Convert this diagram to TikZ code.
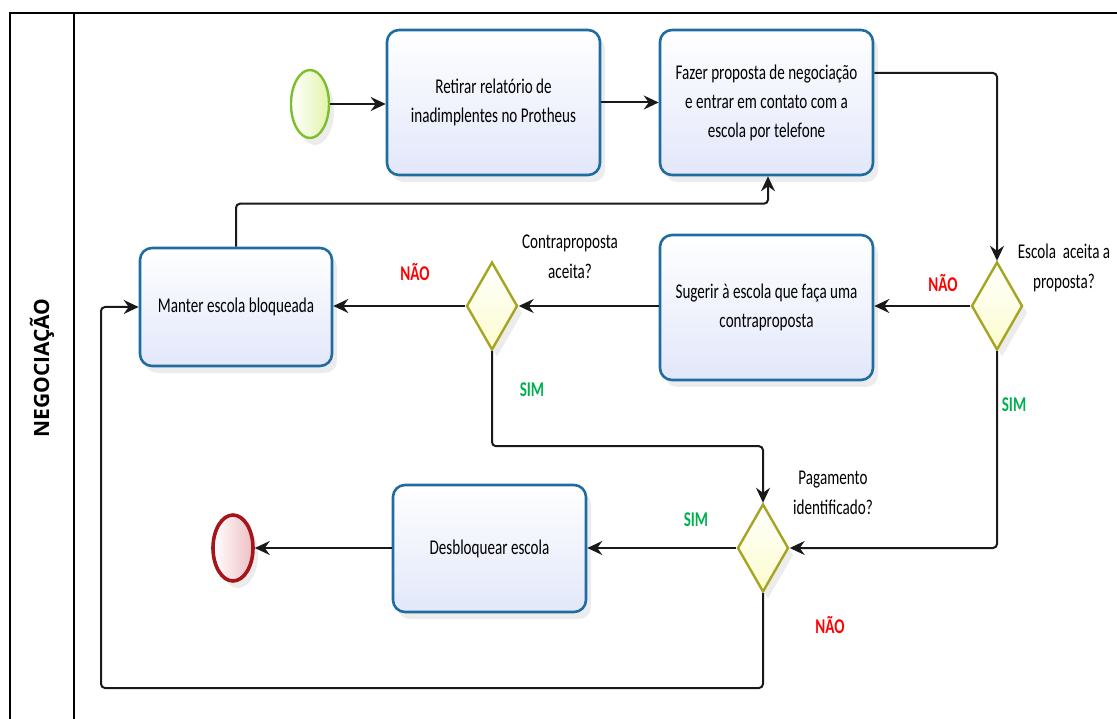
\documentclass[tikz,border=0pt]{standalone}
\usepackage{fontspec}
\setmainfont{Carlito}[FakeStretch=0.72]
\newfontfamily\lanefont{Open Sans}
\usepackage{tikz}
\usetikzlibrary{positioning,shapes.geometric,arrows.meta,shadows}

\definecolor{taskblue}{RGB}{30,108,160}
\definecolor{taskfill}{RGB}{226,231,250}
\definecolor{gateline}{RGB}{165,165,35}
\definecolor{gatefill}{RGB}{252,252,205}
\definecolor{startline}{RGB}{125,190,45}
\definecolor{startfill}{RGB}{226,244,170}
\definecolor{endline}{RGB}{165,22,28}
\definecolor{endfill}{RGB}{238,190,196}
\definecolor{noRed}{RGB}{255,0,0}
\definecolor{simGreen}{RGB}{0,176,80}

\begin{document}
\begin{tikzpicture}[
  x=1pt, y=-1pt,
  task/.style={rectangle, draw=taskblue, line width=2.6pt, rounded corners=12pt,
    top color=white, bottom color=taskfill, align=center,
    minimum width=213pt, minimum height=145pt, inner sep=4pt,
    font=\fontsize{21}{29}\selectfont,
    drop shadow={shadow xshift=5pt, shadow yshift=-7pt, opacity=0.15}},
  gate/.style={diamond, draw=gateline, line width=2.4pt,
    top color=white, bottom color=gatefill,
    minimum width=51pt, minimum height=88pt, inner sep=0pt,
    drop shadow={shadow xshift=5pt, shadow yshift=-7pt, opacity=0.15}},
  flow/.style={-{Stealth[length=15pt, width=14pt, inset=5pt]},
    line width=2pt, draw=black!90},
  ask/.style={align=center, font=\fontsize{21}{30}\selectfont},
  nao/.style={text=noRed, font=\fontsize{21}{24}\selectfont\bfseries},
  sim/.style={text=simGreen, font=\fontsize{21}{24}\selectfont\bfseries}
]
\useasboundingbox (0,0) rectangle (1117,719);

% ── Lane ──
\draw[line width=1.5pt] (10,719) -- (10,13) -- (1117,13);
\draw[line width=1.5pt] (74,13) -- (74,719);
\node[rotate=90, font=\lanefont\fontsize{21}{24}\selectfont\bfseries] (lane) at (42,368) {NEGOCIAÇÃO};

% ── Nodes ──
\node[ellipse, draw=startline, line width=2.4pt, left color=white,
  right color=startfill, minimum width=38pt, minimum height=68pt,
  drop shadow={shadow xshift=5pt, shadow yshift=-7pt, opacity=0.15}]
  (start) at (310,104) {};
\node[task] (retirar)  at (493.5,102.5) {Retirar relatório de\\inadimplentes no Protheus};
\node[task] (proposta) at (766.5,102.5) {Fazer proposta de negociação\\e entrar em contato com a\\escola por telefone};
\node[gate] (escola)   at (997,306) {};
\node[task] (sugerir)  at (766.5,307.5) {Sugerir à escola que faça uma\\contraproposta};
\node[gate] (contra)   at (492,306) {};
\node[task, minimum width=192pt, minimum height=118pt] (manter) at (236,307) {Manter escola bloqueada};
\node[gate] (pagto)    at (763,548) {};
\node[task, minimum width=193pt, minimum height=127pt] (desbloq) at (489.5,548.5) {Desbloquear escola};
\node[ellipse, draw=endline, line width=3.6pt, left color=white,
  right color=endfill, minimum width=40pt, minimum height=66pt,
  drop shadow={shadow xshift=5pt, shadow yshift=-7pt, opacity=0.15}]
  (fim) at (233,548) {};
\coordinate (volta) at (101,688);

% ── Questions ──
\node[ask] (qescola) at (1064,268) {Escola~ aceita a\\proposta?};
\node[ask] (qcontra) at (570,257) {Contraproposta\\aceita?};
\node[ask] (qpagto)  at (833,493) {Pagamento\\identificado?};

% ── Main flow ──
\draw[flow] (start.east) -- (start.east -| retirar.west);
\draw[flow] (retirar) -- (proposta);
\draw[flow, rounded corners=4pt] ([yshift=29.5pt]proposta.east) -| (escola.north);
\draw[flow] (escola.west) -- (escola.west -| sugerir.east);
\draw[flow] (sugerir.west |- contra.east) -- (contra.east);
\draw[flow] (contra.west) -- (contra.west -| manter.east);
\draw[flow, rounded corners=4pt] (manter.north) -- ++(0,-43) -| ([xshift=1.5pt]proposta.south);
\draw[flow, rounded corners=4pt] (contra.south) -- ++(0,95) -| (pagto.north);
\draw[flow, rounded corners=4pt] (escola.south) |- (pagto.east);
\draw[flow] (pagto.west) -- (pagto.west -| desbloq.east);
\draw[flow] (desbloq.west |- fim.east) -- (fim.east);
\draw[flow, rounded corners=4pt] (pagto.south) |- (volta) |- (manter.west);

% ── Answers ──
\node[nao] (nao1) at (943,283) {NÃO};
\node[nao] (nao2) at (415,272) {NÃO};
\node[nao] (nao3) at (830,625) {NÃO};
\node[sim] (sim1) at (1014,405) {SIM};
\node[sim] (sim2) at (532,390) {SIM};
\node[sim] (sim3) at (696,520) {SIM};

\end{tikzpicture}
\end{document}
